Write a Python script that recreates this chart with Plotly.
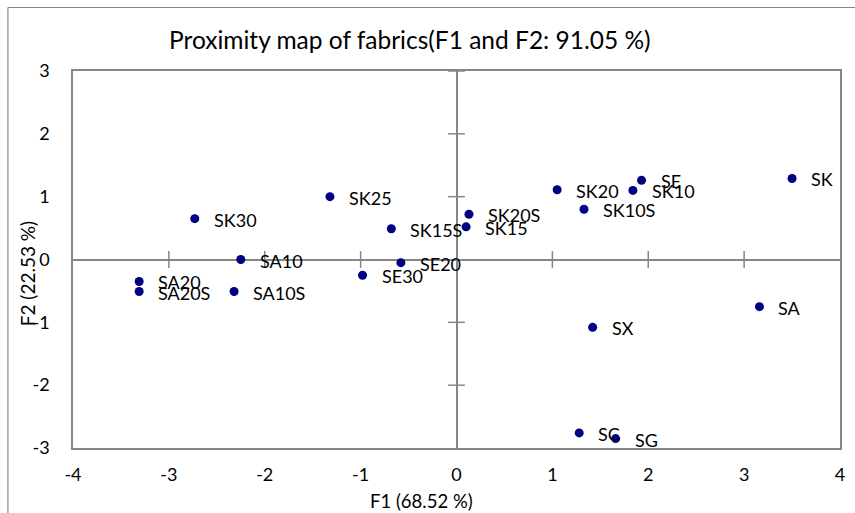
import plotly.graph_objects as go

# ---- data ----
labels = ["SK", "SA", "SX", "SC", "SG", "SE", "SK10", "SK20", "SK10S", "SK20S",
          "SK15", "SK15S", "SE20", "SE30", "SK25", "SK30", "SA10", "SA10S",
          "SA20", "SA20S"]
f1 = [3.50, 3.16, 1.42, 1.28, 1.66, 1.93, 1.84, 1.05, 1.33, 0.13,
      0.10, -0.68, -0.58, -0.98, -1.32, -2.73, -2.25, -2.32,
      -3.31, -3.31]
f2 = [1.29, -0.75, -1.08, -2.76, -2.85, 1.26, 1.10, 1.11, 0.80, 0.72,
      0.52, 0.49, -0.05, -0.25, 1.00, 0.65, 0.00, -0.51,
      -0.35, -0.51]

x_ticks = [-4, -3, -2, -1, 0, 1, 2, 3, 4]
y_ticks = [-3, -2, -1, 0, 1, 2, 3]
x_ticktext = ["-4", "-3", "-2", "-1", "0", "1", "2", "3", "4"]
y_ticktext = ["-3", "-2", "-1", "0", "1", "2", "3"]

title_text = "Proximity map of fabrics(F1 and F2: 91.05 %)"
x_title = "F1 (68.52 %)"
y_title = "F2 (22.53 %)"

FONT = "Lato"
GRAY = "#868686"
NAVY = "#000080"

W, H = 855, 513
ML, MR, MT, MB = 73, 10, 71, 65
PW, PH = W - ML - MR, H - MT - MB


def px_to_paper_x(px):
    return (px - ML) / PW


def px_to_paper_y(py):
    return (H - MB - py) / PH


fig = go.Figure()

# cross tick marks on the zero axes (Excel style)
xt = [t for t in x_ticks if t not in (0, x_ticks[0], x_ticks[-1])]
yt = [t for t in y_ticks if t != 0 and t != y_ticks[0]]
fig.add_trace(go.Scatter(
    x=xt, y=[0] * len(xt), mode="markers", hoverinfo="skip", showlegend=False,
    marker=dict(symbol="line-ns", size=12, line=dict(color=GRAY, width=1.5))))
fig.add_trace(go.Scatter(
    x=[0] * len(yt), y=yt, mode="markers", hoverinfo="skip", showlegend=False,
    cliponaxis=False,
    marker=dict(symbol="line-ew", size=12, line=dict(color=GRAY, width=1.5))))

# data points
fig.add_trace(go.Scatter(
    x=f1, y=f2, mode="markers", showlegend=False, text=labels,
    marker=dict(color=NAVY, size=9)))

annotations = []
for lx, ly, lt in zip(f1, f2, labels):
    annotations.append(dict(
        x=lx, y=ly, xref="x", yref="y", text=lt, showarrow=False,
        xanchor="left", yanchor="middle", xshift=17, yshift=-1,
        font=dict(family=FONT, size=18, color="#000000")))

# titles
annotations.append(dict(
    x=px_to_paper_x(412), y=px_to_paper_y(40), xref="paper", yref="paper",
    text=title_text, showarrow=False, xanchor="center", yanchor="middle",
    font=dict(family=FONT, size=24.5, color="#000000")))
annotations.append(dict(
    x=px_to_paper_x(424), y=px_to_paper_y(501), xref="paper", yref="paper",
    text=x_title, showarrow=False, xanchor="center", yanchor="middle",
    font=dict(family=FONT, size=18.5, color="#000000")))
annotations.append(dict(
    x=px_to_paper_x(27), y=px_to_paper_y(274), xref="paper", yref="paper",
    text=y_title, showarrow=False, xanchor="center", yanchor="middle",
    textangle=-90, font=dict(family=FONT, size=19, color="#000000")))

# outer chart border (left and top visible)
shapes = [
    dict(type="line", xref="paper", yref="paper",
         x0=px_to_paper_x(7.5), x1=px_to_paper_x(7.5),
         y0=px_to_paper_y(7.5), y1=px_to_paper_y(520),
         line=dict(color=GRAY, width=1.2)),
    dict(type="line", xref="paper", yref="paper",
         x0=px_to_paper_x(7.5), x1=px_to_paper_x(860),
         y0=px_to_paper_y(7.5), y1=px_to_paper_y(7.5),
         line=dict(color=GRAY, width=1.2)),
]

fig.update_layout(
    width=W, height=H,
    margin=dict(l=ML, r=MR, t=MT, b=MB, pad=0),
    paper_bgcolor="white", plot_bgcolor="white",
    font=dict(family=FONT, size=18, color="#000000"),
    annotations=annotations, shapes=shapes,
    xaxis=dict(range=[x_ticks[0], x_ticks[-1]], tickvals=x_ticks,
               ticktext=x_ticktext,
               showgrid=False, zeroline=True, zerolinecolor=GRAY,
               zerolinewidth=1.5, showline=True, mirror=True,
               linecolor=GRAY, linewidth=1.5,
               ticks="outside", ticklen=10, tickcolor="rgba(0,0,0,0)",
               tickfont=dict(family=FONT, size=18)),
    yaxis=dict(range=[y_ticks[0], y_ticks[-1]], tickvals=y_ticks,
               ticktext=y_ticktext,
               showgrid=False, zeroline=True, zerolinecolor=GRAY,
               zerolinewidth=1.5, showline=True, mirror=True,
               linecolor=GRAY, linewidth=1.5,
               ticks="outside", ticklen=18, tickcolor="rgba(0,0,0,0)",
               tickfont=dict(family=FONT, size=18)),
)

fig.write_html("out.html")
